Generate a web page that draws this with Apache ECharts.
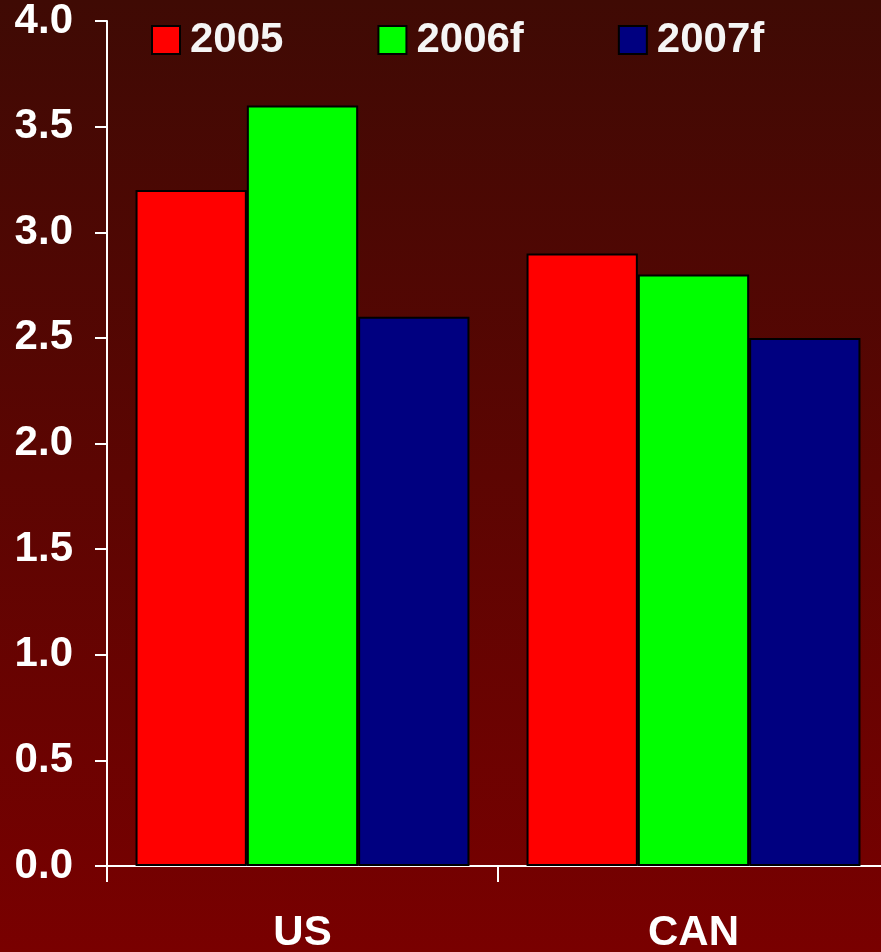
<!DOCTYPE html>
<html>
<head>
<meta charset="utf-8">
<script src="https://cdn.jsdelivr.net/npm/echarts@6/dist/echarts.min.js"></script>
<style>
  html, body { margin: 0; padding: 0; }
  #chart { width: 881px; height: 952px; }
</style>
</head>
<body>
<div id="chart"></div>
<script>
// categories and series
const categories = ['US', 'CAN'];
const seriesNames = ['2005', '2006f', '2007f'];
const values2005 = [3.2, 2.9];
const values2006f = [3.6, 2.8];
const values2007f = [2.6, 2.5];
const barColors = ['#ff0000', '#00ff00', '#000080'];

const font = 'Liberation Sans, Arial, sans-serif';
const myChart = echarts.init(document.getElementById('chart'));

const data = [values2005, values2006f, values2007f];
const options = {
  backgroundColor: new echarts.graphic.LinearGradient(0, 0, 0, 1, [
    { offset: 0, color: '#3f0a04' },
    { offset: 1, color: '#790000' }
  ]),
  animation: false,
  legend: {
    left: 146,
    top: 14,
    itemWidth: 28,
    itemHeight: 28,
    itemGap: 94,
    icon: 'rect',
    textStyle: { color: '#f5f5f5', fontSize: 42, fontWeight: 'bold', fontFamily: font, padding: [0, 0, 0, 5] },
    data: seriesNames
  },
  grid: { left: 107, width: 782, top: 21, bottom: 86, containLabel: false, outerBoundsMode: 'none' },
  xAxis: {
    type: 'category',
    data: categories,
    axisLine: { lineStyle: { color: '#ffffff', width: 2 } },
    axisTick: { show: true, length: 16, lineStyle: { color: '#ffffff', width: 2 } },
    axisLabel: { color: '#ffffff', fontSize: 42, fontWeight: 'bold', fontFamily: font, margin: 46 }
  },
  yAxis: {
    type: 'value',
    min: 0,
    max: 4,
    interval: 0.5,
    axisLine: { show: true, lineStyle: { color: '#ffffff', width: 2 } },
    axisTick: { show: true, inside: false, length: 12, lineStyle: { color: '#ffffff', width: 2 } },
    splitLine: { show: false },
    axisLabel: {
      color: '#ffffff', fontSize: 42, fontWeight: 'bold', fontFamily: font, margin: 34,
      formatter: v => v.toFixed(1)
    }
  },
  series: seriesNames.map((name, i) => ({
    name: name,
    type: 'bar',
    data: data[i],
    barGap: '0%',
    barCategoryGap: '14.6%',
    itemStyle: { color: barColors[i], borderColor: '#000000', borderWidth: 2 }
  }))
};
myChart.setOption(options);
</script>
</body>
</html>
